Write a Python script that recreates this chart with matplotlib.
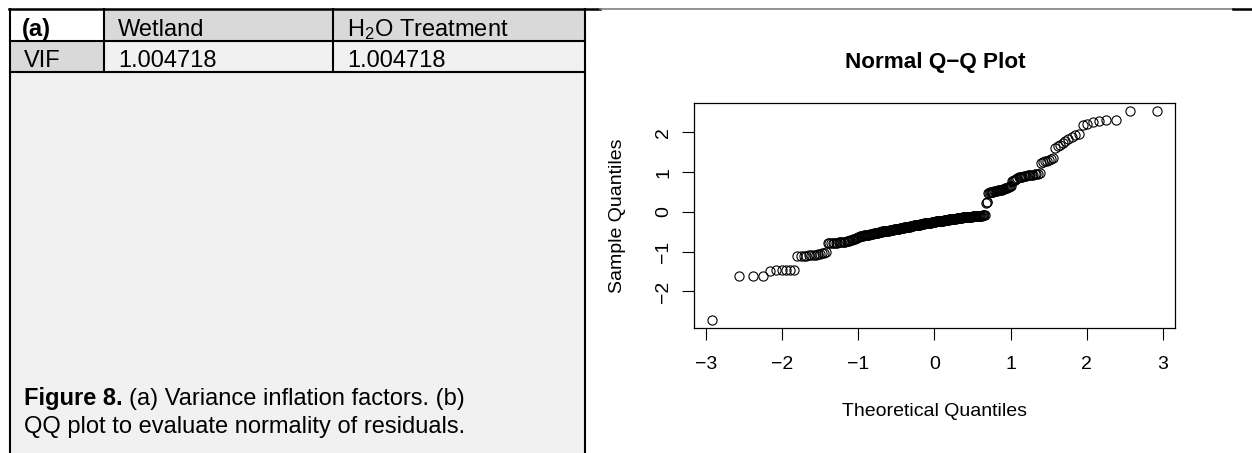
import matplotlib
matplotlib.use("Agg")
import matplotlib.pyplot as plt
from matplotlib.patches import Rectangle
from matplotlib.lines import Line2D
from statistics import NormalDist
import numpy as np

plt.rcParams['font.family'] = ['Liberation Sans', 'DejaVu Sans']
plt.rcParams['mathtext.fontset'] = 'custom'
plt.rcParams['mathtext.rm'] = 'Liberation Sans'
plt.rcParams['mathtext.it'] = 'Liberation Sans'
plt.rcParams['mathtext.bf'] = 'Liberation Sans:bold'
plt.rcParams['axes.unicode_minus'] = True

# ---- (a) variance inflation factor table ----
table_corner = "(a)"
table_columns = ["Wetland", r"H$_2$O Treatment"]
table_row_label = "VIF"
vif_values = [1.004718, 1.004718]

caption_bold = "Figure 8."
caption_line1 = "(a) Variance inflation factors. (b)"
caption_line2 = "QQ plot to evaluate normality of residuals."

# ---- (b) sorted model residuals ----
lower_tail = [-2.71, -1.61, -1.61, -1.60,
              -1.48, -1.47, -1.47, -1.46, -1.46, -1.45]
lower_steps = [-1.11, -1.10, -1.10, -1.10, -1.09, -1.09, -1.08, -1.08, -1.07,
               -1.06, -1.04, -1.03, -1.01,
               -0.78, -0.78, -0.78, -0.77, -0.77, -0.77, -0.77, -0.76, -0.76,
               -0.76, -0.75, -0.75, -0.75, -0.74,
               -0.73, -0.72, -0.71, -0.70, -0.69, -0.68, -0.67, -0.66, -0.65,
               -0.63]
central_band = [-0.62, -0.61, -0.61, -0.60, -0.60, -0.59, -0.59, -0.58, -0.58,
                -0.57, -0.57, -0.56, -0.56, -0.55, -0.55, -0.54, -0.54, -0.53,
                -0.53, -0.52, -0.52, -0.51, -0.51, -0.50,
                -0.50, -0.49, -0.49, -0.49, -0.48, -0.48, -0.48, -0.47, -0.47,
                -0.47, -0.46, -0.46, -0.46, -0.45, -0.45, -0.45, -0.44, -0.44,
                -0.44, -0.43, -0.43, -0.43, -0.42, -0.42, -0.41,
                -0.41, -0.41, -0.40, -0.40, -0.40, -0.39, -0.39, -0.39, -0.38,
                -0.38, -0.38, -0.37, -0.37, -0.37, -0.36, -0.36, -0.35, -0.35,
                -0.35, -0.34,
                -0.34, -0.34, -0.33, -0.33, -0.33, -0.33, -0.32, -0.32, -0.32,
                -0.31, -0.31, -0.31, -0.30, -0.30, -0.30, -0.29, -0.29, -0.29,
                -0.29, -0.28, -0.28, -0.28, -0.27, -0.27, -0.27, -0.27, -0.26,
                -0.26, -0.26, -0.25, -0.25,
                -0.25, -0.25, -0.24, -0.24, -0.24, -0.24, -0.23, -0.23, -0.23,
                -0.23, -0.22, -0.22, -0.22, -0.22, -0.21, -0.21, -0.21, -0.21,
                -0.20, -0.20, -0.20, -0.20, -0.19, -0.19, -0.19, -0.19, -0.18,
                -0.18, -0.18, -0.18, -0.17, -0.17, -0.17, -0.16, -0.16,
                -0.16, -0.16, -0.15, -0.15, -0.15, -0.15, -0.15, -0.14, -0.14,
                -0.14, -0.14, -0.14, -0.13, -0.13, -0.13, -0.13, -0.12, -0.12,
                -0.12, -0.12, -0.12, -0.11, -0.11, -0.11, -0.11, -0.11, -0.10,
                -0.10, -0.10, -0.10, -0.09, -0.09, -0.09, -0.09, -0.08, -0.08,
                -0.08, -0.07]
upper_steps = [0.23, 0.24, 0.26,
               0.47, 0.48, 0.49, 0.50, 0.50, 0.51, 0.51, 0.52, 0.52, 0.53,
               0.53, 0.54, 0.54, 0.55, 0.55,
               0.56, 0.57, 0.58, 0.59, 0.60, 0.61, 0.62, 0.63, 0.64, 0.65,
               0.77, 0.78, 0.80, 0.81, 0.83,
               0.86, 0.87, 0.88, 0.88, 0.89, 0.90, 0.90, 0.91, 0.92, 0.92,
               0.93, 0.94, 0.94, 0.95, 0.96, 0.96, 0.97]
upper_tail = [1.24, 1.26, 1.27, 1.29, 1.31, 1.34, 1.36,
              1.62, 1.65, 1.69, 1.74, 1.79, 1.84, 1.88, 1.93, 1.97,
              2.18, 2.22, 2.25, 2.28, 2.30, 2.31,
              2.53, 2.53]

residuals = np.sort(np.array(lower_tail + lower_steps + central_band
                             + upper_steps + upper_tail))
n = residuals.size
# plotting positions as in R's ppoints() for n > 10
probs = (np.arange(1, n + 1) - 0.5) / n
theoretical = np.array([NormalDist().inv_cdf(p) for p in probs])

x_ticks = [-3, -2, -1, 0, 1, 2, 3]
y_ticks = [-2, -1, 0, 1, 2]

# ---- figure in pixel layout ----
W, H, DPI = 1252, 453, 100
fig = plt.figure(figsize=(W / DPI, H / DPI), dpi=DPI)
fig.patch.set_facecolor('white')


def fx(x):
    return x / W


def fy(y):
    return 1 - y / H


def rect(x0, y0, x1, y1, color):
    fig.add_artist(Rectangle((fx(x0), fy(y1)), fx(x1) - fx(x0),
                             fy(y0) - fy(y1), transform=fig.transFigure,
                             facecolor=color, edgecolor='none', zorder=0))


def seg(x0, y0, x1, y1, color='black', lw=1.5):
    fig.add_artist(Line2D([fx(x0), fx(x1)], [fy(y0), fy(y1)],
                          transform=fig.transFigure, color=color, lw=lw,
                          solid_capstyle='projecting', zorder=3))


col_edges = [10, 104, 333, 585]
row_edges = [9, 41, 72]
panel_bottom = H

# cell shading
header_fill = '#d9d9d9'
body_fill = '#f1f1f1'
rect(col_edges[0], row_edges[2], col_edges[3], panel_bottom, body_fill)
rect(col_edges[0], row_edges[0], col_edges[1], row_edges[1], 'white')
rect(col_edges[1], row_edges[0], col_edges[3], row_edges[1], header_fill)
rect(col_edges[0], row_edges[1], col_edges[1], row_edges[2], header_fill)
rect(col_edges[1], row_edges[1], col_edges[3], row_edges[2], body_fill)

# rules
seg(9, 9, 600, 9, 'black', 1.8)
seg(600, 9, 1233, 9, '#7f7f7f', 1.2)
seg(1233, 9, W, 9, 'black', 1.8)
seg(col_edges[0], 9, col_edges[0], panel_bottom, 'black', 1.5)
seg(col_edges[3], 9, col_edges[3], panel_bottom, 'black', 1.5)
for r in row_edges[1:]:
    seg(col_edges[0], r, col_edges[3], r, 'black', 1.5)
for c in col_edges[1:3]:
    seg(c, row_edges[0], c, row_edges[2], 'black', 1.5)

table_fs = 17
pad = 14
fig.text(fx(col_edges[0] + pad - 2), fy(36), table_corner, fontsize=table_fs,
         fontweight='bold', va='baseline', ha='left')
for c, label in zip(col_edges[1:3], table_columns):
    fig.text(fx(c + pad), fy(36), label, fontsize=table_fs,
             va='baseline', ha='left')
fig.text(fx(col_edges[0] + pad), fy(67), table_row_label, fontsize=table_fs,
         va='baseline', ha='left')
for c, v in zip(col_edges[1:3], vif_values):
    fig.text(fx(c + pad), fy(67), f"{v:.6f}", fontsize=table_fs,
             va='baseline', ha='left')

# caption with bold lead-in
cap_fs = 17
cb = fig.text(fx(24), fy(405), caption_bold, fontsize=cap_fs,
              fontweight='bold', va='baseline', ha='left')
fig.canvas.draw()
bb = cb.get_window_extent(renderer=fig.canvas.get_renderer())
space_px = 0.278 * cap_fs * DPI / 72
fig.text((bb.x1 + space_px) / W, fy(405), caption_line1, fontsize=cap_fs,
         va='baseline', ha='left')
fig.text(fx(24), fy(433), caption_line2, fontsize=cap_fs,
         va='baseline', ha='left')

# ---- (b) normal Q-Q plot ----
ax_l, ax_r, ax_t, ax_b = 694, 1175, 103, 328
ax = fig.add_axes([fx(ax_l), fy(ax_b), fx(ax_r) - fx(ax_l),
                   fy(ax_t) - fy(ax_b)])
ax.plot(theoretical, residuals, linestyle='none', marker='o',
        markersize=6.6, markerfacecolor='none', markeredgecolor='black',
        markeredgewidth=0.8)


def r_range(v):
    lo, hi = float(np.min(v)), float(np.max(v))
    d = 0.04 * (hi - lo)
    return lo - d, hi + d


ax.set_xlim(*r_range(theoretical))
ax.set_ylim(*r_range(residuals))
ax.set_xticks(x_ticks)
ax.set_yticks(y_ticks)
ax.tick_params(axis='both', direction='out', length=8.5, width=0.8,
               labelsize=14, colors='black')
ax.tick_params(axis='x', pad=12)
ax.tick_params(axis='y', pad=7, labelrotation=90)
for lab in ax.get_yticklabels():
    lab.set_va('center')
for s in ax.spines.values():
    s.set_linewidth(0.9)
    s.set_color('black')

fig.text(fx(935), fy(62.5), "Normal Q\u2212Q Plot", fontsize=16.2,
         fontweight='bold', ha='center', va='center')
fig.text(fx(934.5), fy(411), "Theoretical Quantiles", fontsize=14,
         ha='center', va='center')
fig.text(fx(617), fy(215.5), "Sample Quantiles", fontsize=14,
         ha='center', va='center', rotation=90)

fig.savefig("out.png", dpi=DPI, facecolor='white')
